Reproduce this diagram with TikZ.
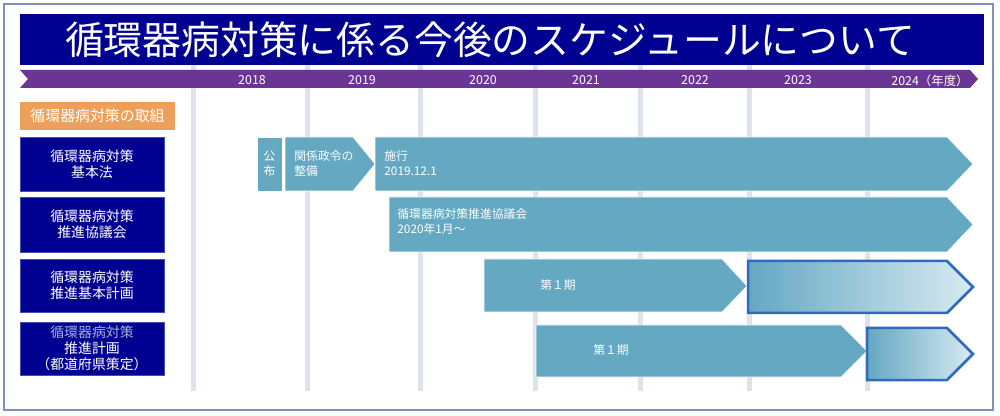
\documentclass[tikz,border=0pt]{standalone}
\usepackage{fontspec}
\setmainfont{Noto Sans CJK JP}
\usepackage{tikz}
\definecolor{titleblue}{HTML}{000091}
\definecolor{boxedge}{HTML}{3F4FB8}
\definecolor{bandpurple}{HTML}{6A3593}
\definecolor{barteal}{HTML}{64A8C2}
\definecolor{barpale}{HTML}{D8EAF1}
\definecolor{baredge}{HTML}{2E6BBF}
\definecolor{gridgray}{HTML}{DCE3ED}
\definecolor{framegray}{HTML}{8090B8}
\definecolor{orangebox}{HTML}{EDA05C}
\definecolor{fadetext}{HTML}{A3B2D8}

\begin{document}
\begin{tikzpicture}[x=0.5pt, y=-0.5pt,
    rowbox/.style={fill=titleblue, draw=boxedge, line width=0.4pt, text=white, align=center,
      minimum width=72pt, inner sep=0pt, font=\fontsize{6.95}{8}\selectfont},
    bartext/.style={text=white, align=left, inner sep=0pt, font=\fontsize{5.9}{7.5}\selectfont},
    year/.style={text=white, inner sep=0pt, font=\fontsize{6.2}{7}\selectfont},
    bar/.style={fill=barteal, draw=white, line width=0.3pt},
    nextbar/.style={left color=barteal, right color=barpale, draw=baredge, line width=1.25pt}]
      \useasboundingbox (0,0) rectangle (1000,416);
      \fill[white] (0,0) rectangle (1000,416);
      \draw[framegray, line width=0.75pt] (4,4) rectangle (993,410);

      \foreach \gx in {193,307,420,535,640,749,867}
        \draw[gridgray, line width=2.5pt] (\gx,65) -- (\gx,391);

      \fill[titleblue] (20,14) rectangle (984,65);
      \node[text=white, inner sep=0pt, font=\fontsize{19.4}{22}\selectfont] (title) at (490,40)
        {循環器病対策に係る今後のスケジュールについて};

      \fill[bandpurple] (20,70) -- (970,70) -- (978,79) -- (970,88) -- (20,88) -- (28,79) -- cycle;
      \node[year] (y2018) at (252,80) {2018};
      \node[year] (y2019) at (362,80) {2019};
      \node[year] (y2020) at (483,80) {2020};
      \node[year] (y2021) at (586,80) {2021};
      \node[year] (y2022) at (695,80) {2022};
      \node[year] (y2023) at (798,80) {2023};
      \node[year] (y2024) at (930,81) {2024（年度）};

      \node[fill=orangebox, text=white, minimum width=77.5pt, minimum height=14pt, inner sep=0pt,
        font=\fontsize{7.45}{9}\selectfont] (torikumi) at (97.5,116) {循環器病対策の取組};
      \node[rowbox, minimum height=27pt] (kihonho) at (92,164) {循環器病対策\\基本法};
      \node[rowbox, minimum height=27.5pt] (kyogikai) at (92,224.5) {循環器病対策\\推進協議会};
      \node[rowbox, minimum height=26.5pt] (kihonkeikaku) at (92,285.5) {循環器病対策\\推進基本計画};
      \node[rowbox, minimum height=26.5pt] (todofuken) at (92,348.5)
        {\textcolor{fadetext}{循環器病対策}\\推進計画\\（都道府県策定）};

      \fill[bar] (257,137) rectangle (282,191);
      \node[bartext, align=center] (kofu) at (269.5,163.5) {公\\布};
      \filldraw[bar] (285,137) -- (353,137) -- (375,164) -- (353,191) -- (285,191) -- cycle;
      \node[bartext, anchor=west] (seirei) at (294,163.5) {関係政令の\\整備};
      \filldraw[bar] (375,137) -- (947,137) -- (973,164) -- (947,191) -- (375,191) -- cycle;
      \node[bartext, anchor=west] (seko) at (384,163.5) {施行\\2019.12.1};

      \filldraw[bar] (389,197) -- (947,197) -- (973,224.5) -- (947,252) -- (389,252) -- cycle;
      \node[bartext, anchor=west] (kyogikaibar) at (397,221.5) {循環器病対策推進協議会\\2020年1月～};

      \filldraw[bar] (484,259) -- (722,259) -- (747,286) -- (722,312) -- (484,312) -- cycle;
      \node[bartext] (kiA) at (558,285.5) {第１期};
      \shadedraw[nextbar] (748,261) -- (947,261) -- (973,287) -- (947,313) -- (748,313) -- cycle;

      \filldraw[bar] (536,325) -- (841,325) -- (867,351) -- (841,377) -- (536,377) -- cycle;
      \node[bartext] (kiB) at (611,350) {第１期};
      \shadedraw[nextbar] (867,328) -- (947,328) -- (973,354) -- (947,380) -- (867,380) -- cycle;
    \end{tikzpicture}
\end{document}
